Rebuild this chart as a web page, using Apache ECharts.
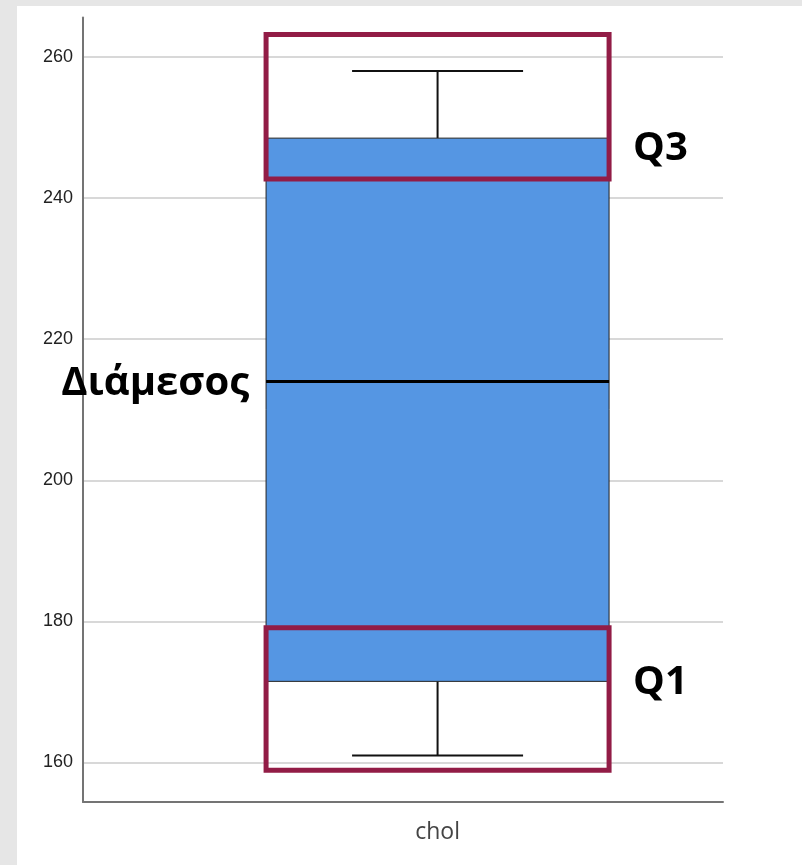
<!DOCTYPE html>
<html><head><meta charset="utf-8">
<script src="https://cdn.jsdelivr.net/npm/echarts@6/dist/echarts.min.js"></script>
<style>
html,body{margin:0;padding:0;background:#e6e6e6;width:802px;height:865px;overflow:hidden}
#c{position:absolute;left:17px;top:6px;width:785px;height:859px;background:#fff}
</style></head><body><div id="c"></div>
<script>
// ---- data ----
const categories = ['chol'];
const whiskerLow = [161];
const q1Values = [171.5];
const medianValues = [214];
const q3Values = [248.5];
const whiskerHigh = [258];
const yTickValues = [160, 180, 200, 220, 240, 260];
const yRange = [154.4, 265.6];
// highlighted value ranges (annotation boxes) and their labels
const highlightRanges = [[242.7, 263.2], [158.9, 179.1]];
const highlightNames = ['Q3', 'Q1'];
const highlightAnchors = [q3Values[0], q1Values[0]];
const medianName = 'Διάμεσος';

// ---- chart ----
const chart = echarts.init(document.getElementById('c'), null, {renderer: 'canvas'});
const HALF_BOX = 171.5, HALF_CAP = 85.5;
const RED = '#921c46';
const labelFont = '"Open Sans","Noto Sans",sans-serif';

const boxData = categories.map((c, i) => [i, whiskerLow[i], q1Values[i], medianValues[i], q3Values[i], whiskerHigh[i]]);
const annData = highlightRanges.map((r, i) => [0, r[0], r[1], highlightAnchors[i]]);

chart.setOption({
  animation: false,
  grid: {left: 66, right: 79, top: 11.5, bottom: 63},
  xAxis: {
    type: 'value', min: -1, max: 0.805,
    axisLine: {show: true, onZero: false, lineStyle: {color: '#747474', width: 2}},
    axisTick: {show: false},
    splitLine: {show: false},
    axisLabel: {
      customValues: categories.map((c, i) => i),
      formatter: v => categories[Math.round(v)] || '',
      fontFamily: labelFont, fontSize: 23, color: '#444', margin: 19
    }
  },
  yAxis: {
    type: 'value', min: yRange[0], max: yRange[1],
    axisLine: {show: true, onZero: false, lineStyle: {color: '#747474', width: 2}},
    axisTick: {show: false, customValues: yTickValues},
    axisLabel: {customValues: yTickValues, fontFamily: '"Liberation Sans",Arial,sans-serif', fontSize: 18, color: '#222', margin: 10},
    splitLine: {show: true, lineStyle: {color: '#d8d8d8', width: 2}}
  },
  series: [
    {
      type: 'custom', clip: false, z: 2,
      encode: {x: 0, y: [1, 2, 3, 4, 5]},
      data: boxData,
      renderItem(params, api) {
        const x = api.value(0);
        const pLow = api.coord([x, api.value(1)]);
        const pQ1 = api.coord([x, api.value(2)]);
        const pMed = api.coord([x, api.value(3)]);
        const pQ3 = api.coord([x, api.value(4)]);
        const pHigh = api.coord([x, api.value(5)]);
        const cx = pLow[0];
        const ls = {stroke: '#111', lineWidth: 2};
        return {type: 'group', children: [
          {type: 'line', shape: {x1: cx, y1: pHigh[1], x2: cx, y2: pQ3[1]}, style: ls},
          {type: 'line', shape: {x1: cx, y1: pQ1[1], x2: cx, y2: pLow[1]}, style: ls},
          {type: 'line', shape: {x1: cx - HALF_CAP, y1: pHigh[1], x2: cx + HALF_CAP, y2: pHigh[1]}, style: ls},
          {type: 'line', shape: {x1: cx - HALF_CAP, y1: pLow[1], x2: cx + HALF_CAP, y2: pLow[1]}, style: ls},
          {type: 'rect', shape: {x: cx - HALF_BOX, y: pQ3[1], width: 2 * HALF_BOX, height: pQ1[1] - pQ3[1]},
            style: {fill: '#5596e3', stroke: '#222', lineWidth: 1}},
          {type: 'line', shape: {x1: cx - HALF_BOX, y1: pMed[1], x2: cx + HALF_BOX, y2: pMed[1]}, style: {stroke: '#000', lineWidth: 3}},
          {type: 'text', x: cx - HALF_BOX - 17, y: pMed[1] + 2,
            style: {text: medianName, align: 'right', verticalAlign: 'middle', fontFamily: labelFont, fontWeight: 'bold', fontSize: 40, fill: '#000'}}
        ]};
      }
    },
    {
      type: 'custom', clip: false, z: 3,
      encode: {x: 0, y: [1, 2]},
      data: annData,
      renderItem(params, api) {
        const x = api.value(0);
        const pA = api.coord([x, api.value(1)]);
        const pB = api.coord([x, api.value(2)]);
        const pL = api.coord([x, api.value(3)]);
        const cx = pA[0];
        const i = params.dataIndex;
        const dy = i === 0 ? 10 : 1;
        return {type: 'group', children: [
          {type: 'rect', shape: {x: cx - HALF_BOX, y: pB[1], width: 2 * HALF_BOX, height: pA[1] - pB[1]},
            style: {fill: 'none', stroke: RED, lineWidth: 5}},
          {type: 'text', x: cx + HALF_BOX + 24, y: pL[1] + dy,
            style: {text: highlightNames[i], align: 'left', verticalAlign: 'middle', fontFamily: labelFont, fontWeight: 'bold', fontSize: 40, fill: '#000'}}
        ]};
      }
    }
  ]
});
</script></body></html>
